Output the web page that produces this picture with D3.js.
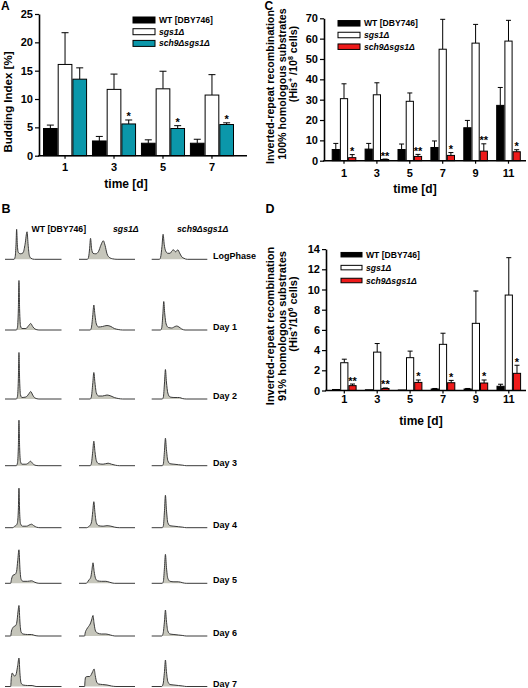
<!DOCTYPE html>
<html><head><meta charset="utf-8">
<script src="https://cdn.jsdelivr.net/npm/d3@7"></script>
<style>
body{margin:0;background:#fff}
svg{display:block}
text{font-family:"Liberation Sans",Arial,sans-serif;font-weight:bold;fill:#000}
</style>
</head><body>
<svg id="fig" width="528" height="688"></svg>
<script>
// ---------------- DATA ----------------
const strains = ["WT [DBY746]", "sgs1Δ", "sch9Δsgs1Δ"];

// Panel A: budding index [%]
const aCats = ["1", "3", "5", "7"];
const aWT = [4.8, 2.6, 2.2, 2.2];
const aWTErr = [0.6, 0.8, 0.6, 0.7];
const aSgs1 = [16.1, 11.7, 11.8, 10.7];
const aSgs1Err = [5.6, 2.7, 3.1, 3.6];
const aSch9 = [13.5, 5.6, 4.8, 5.5];
const aSch9Err = [2.0, 0.7, 0.5, 0.3];
const aSig = ["", "*", "*", "*"];
const aTicks = [0, 5, 10, 15, 20, 25];

// Panel C: 100% homologous substrates (His+/10^8 cells)
const cCats = ["1", "3", "5", "7", "9", "11"];
const cWT = [5.5, 5.7, 5.5, 6.5, 16.2, 27.2];
const cWTErr = [3.0, 2.8, 2.7, 3.2, 3.6, 8.8];
const cSgs1 = [30.5, 32.4, 29.2, 54.8, 57.8, 58.8];
const cSgs1Err = [7.3, 5.9, 4.1, 14.7, 9.2, 10.2];
const cSch9 = [1.5, 0.6, 2.1, 2.6, 4.7, 4.4];
const cSch9Err = [1.5, 0.2, 1.0, 1.4, 3.6, 1.0];
const cSig = ["*", "**", "**", "*", "**", "*"];
const cTicks = [0, 10, 20, 30, 40, 50, 60, 70];

// Panel D: 91% homologous substrates (His+/10^6 cells)
const dCats = ["1", "3", "5", "7", "9", "11"];
const dWT = [0.1, 0.07, 0.05, 0.15, 0.15, 0.42];
const dWTErr = [0, 0, 0, 0.05, 0.05, 0.2];
const dSgs1 = [2.75, 3.8, 3.25, 4.57, 6.65, 9.45];
const dSgs1Err = [0.35, 0.85, 0.65, 1.1, 3.2, 3.7];
const dSch9 = [0.48, 0.2, 0.8, 0.77, 0.74, 1.7];
const dSch9Err = [0.16, 0.05, 0.24, 0.23, 0.3, 0.8];
const dSig = ["**", "**", "*", "*", "*", "*"];
const dTicks = [0, 2, 4, 6, 8, 10, 12, 14];

// Panel B: FACS DNA-content histograms, [channel %, relative count]
const histRows = ["LogPhase", "Day 1", "Day 2", "Day 3", "Day 4", "Day 5", "Day 6", "Day 7"];
const histWT = [
  [[0,0],[16,0],[18,5],[19.5,30],[20.6,60],[21.8,30],[23.5,14],[27,11],[32,13],[35.5,30],[39,55],[41,28],[43,8],[46,2],[52,0],[100,0]],
  [[0,0],[20,0],[22,5],[23.6,40],[24.7,99],[25.9,40],[27.5,8],[30,3],[37,3],[42,9],[45.5,13],[49,7],[53,2],[60,0],[100,0]],
  [[0,0],[20,0],[22,5],[23.6,38],[24.7,93],[25.9,38],[27.5,8],[30,3],[37,4],[42,10],[45.5,15],[49,8],[53,2],[60,0],[100,0]],
  [[0,0],[20,0],[22,5],[23.6,36],[24.7,91],[25.9,36],[27.5,8],[30,3],[37,3],[42,6],[45,9],[48.5,5],[53,1],[60,0],[100,0]],
  [[0,0],[14,0],[17,3],[20,5],[22,10],[23.6,35],[24.7,79],[25.9,32],[27.5,8],[31,3],[38,3],[44,6],[47,7],[51,4],[56,1],[62,0],[100,0]],
  [[0,0],[10,0],[11.5,8],[14,16],[18,18],[20.5,24],[22.5,45],[24.7,67],[26.5,28],[28.5,8],[32,4],[40,4],[47,5],[53,2],[60,0],[100,0]],
  [[0,0],[10,0],[11.5,10],[13,15],[16,19],[19,21],[21,28],[23,48],[24.7,61],[26.5,26],[28.5,8],[32,4],[40,3],[47,3],[53,1],[60,0],[100,0]],
  [[0,0],[10,0],[11.2,18],[12.9,27],[15.5,22],[17.6,21],[20,26],[22.5,42],[24.7,57],[26.5,25],[28.5,7],[32,3],[40,2],[48,2],[55,0],[100,0]]
];
const histSgs1 = [
  [[0,0],[15,0],[17,4],[19,22],[20.6,42],[22.4,22],[25,12],[30,11],[35,16],[39,28],[43.5,37],[46.5,28],[50,11],[54,4],[60,1],[68,0],[100,0]],
  [[0,0],[20,0],[22,4],[24.5,28],[26.5,50],[28.5,30],[31,12],[35,6],[42,7],[50,9],[57,7],[63,3],[70,1],[78,0],[100,0]],
  [[0,0],[20,0],[22,4],[24.5,30],[26.5,53],[28.5,32],[31,12],[35,6],[42,6],[50,8],[57,6],[63,3],[70,1],[78,0],[100,0]],
  [[0,0],[20,0],[22,4],[24.5,28],[26.5,49],[28.5,28],[31,10],[35,4],[43,3],[52,5],[58,3],[65,1],[72,0],[100,0]],
  [[0,0],[14,0],[17,2],[20,5],[22.5,12],[24.5,32],[26.5,52],[28.5,30],[31,10],[35,4],[43,3],[50,4],[57,3],[64,1],[72,0],[100,0]],
  [[0,0],[13,0],[15.5,3],[18,7],[21,12],[23,26],[25,41],[27,24],[29.5,10],[33,5],[40,4],[48,4],[55,2],[63,0],[100,0]],
  [[0,0],[10,0],[11,6],[14,14],[17,19],[20,24],[22.5,32],[25,41],[27,24],[29.5,10],[33,6],[40,4],[48,4],[56,2],[64,0],[100,0]],
  [[0,0],[10,0],[10.8,12],[12,19],[16,20],[19,20],[22,24],[24.5,30],[27,35],[29,22],[31.5,9],[35,5],[42,4],[50,3],[58,1],[66,0],[100,0]]
];
const histSch9 = [
  [[0,0],[14,0],[16,4],[18.5,26],[20.5,50],[22.5,30],[25,17],[29,12],[33,12],[36.5,17],[39,19],[43,15],[47,19],[50,13],[54,5],[58,2],[64,0],[100,0]],
  [[0,0],[16,0],[18,4],[20,30],[21.7,57],[23.5,32],[26,12],[30,5],[36,4],[42,7],[45,8],[49,6],[54,2],[60,0],[100,0]],
  [[0,0],[19,0],[21,4],[23,32],[24.7,59],[26.5,34],[29,12],[33,4],[40,3],[46,3],[50,3],[55,1],[62,0],[100,0]],
  [[0,0],[19,0],[21,4],[23,30],[24.7,55],[26.5,32],[29,10],[33,4],[40,3],[48,2],[56,1],[62,0],[100,0]],
  [[0,0],[19,0],[21,4],[23,34],[24.7,65],[26.5,36],[29,10],[33,4],[40,3],[48,2],[56,1],[62,0],[100,0]],
  [[0,0],[19,0],[21,4],[23,32],[24.7,58],[26.5,32],[29,10],[33,4],[40,3],[48,3],[56,1],[62,0],[100,0]],
  [[0,0],[18,0],[20.5,5],[23,30],[24.7,52],[26.5,30],[29,10],[33,4],[40,3],[48,2],[56,1],[62,0],[100,0]],
  [[0,0],[18,0],[20.5,5],[23,30],[24.7,53],[26.5,30],[29,10],[33,4],[40,3],[48,2],[56,1],[62,0],[100,0]]
];

// ---------------- DRAWING ----------------
const FF = '"Liberation Sans", Arial, sans-serif';
const BLACK = "#000000", WHITE = "#ffffff", TEAL = "#0b97aa", RED = "#ee1a1a";
const svg = d3.select("#fig");
svg.append("rect").attr("width", 528).attr("height", 688).attr("fill", "#fff");

function txt(g, x, y, s, size, opts = {}) {
  return g.append("text").attr("x", x).attr("y", y).text(s)
    .attr("font-size", size).attr("text-anchor", opts.anchor || "start")
    .attr("font-style", opts.italic ? "italic" : "normal");
}

function barChart(p) {
  const g = svg.append("g");
  const x = d3.scaleBand().domain(p.cats).range(p.band).paddingInner(p.pi).paddingOuter(0);
  const sub = d3.scaleBand().domain([0, 1, 2]).range([0, x.bandwidth()]);
  const y = d3.scaleLinear().domain([0, p.yMax]).range([p.y0, p.yTop]);
  p.series.forEach((s, si) => {
    const cx = (c) => x(c) + sub(si) + sub.bandwidth() / 2;
    const eg = g.append("g");
    p.cats.forEach((c, i) => {
      if (s.e[i] <= 0) return;
      eg.append("line").attr("x1", cx(c)).attr("x2", cx(c))
        .attr("y1", y(s.v[i])).attr("y2", y(s.v[i] + s.e[i]))
        .attr("stroke", "#000").attr("stroke-width", 1);
      eg.append("line").attr("x1", cx(c) - p.capW / 2).attr("x2", cx(c) + p.capW / 2)
        .attr("y1", y(s.v[i] + s.e[i])).attr("y2", y(s.v[i] + s.e[i]))
        .attr("stroke", "#000").attr("stroke-width", 1);
    });
    g.append("g").selectAll("rect").data(p.cats).join("rect")
      .attr("x", c => x(c) + sub(si) + 0.5)
      .attr("y", (c, i) => y(s.v[i]))
      .attr("width", sub.bandwidth() - 1)
      .attr("height", (c, i) => Math.max(0.5, y(0) - y(s.v[i])))
      .attr("fill", s.fill).attr("stroke", "#000").attr("stroke-width", 1);
    if (si === 2) {
      p.cats.forEach((c, i) => {
        if (!p.sig[i]) return;
        txt(g, cx(c), y(s.v[i] + s.e[i]) + 0.5, p.sig[i], 11, { anchor: "middle" });
      });
    }
  });
  const ya = d3.axisLeft(y).tickValues(p.ticks).tickSize(4).tickSizeOuter(0).tickPadding(2).tickFormat(d3.format("d"));
  g.append("g").attr("transform", `translate(${p.ax},0)`).call(ya)
    .attr("font-family", FF).attr("font-size", 11).attr("font-weight", "bold")
    .call(a => a.select(".domain").attr("stroke-width", 1.6))
    .call(a => a.selectAll(".tick line").attr("stroke-width", 1.2));
  const xa = d3.axisBottom(x).tickSize(3).tickSizeOuter(0).tickPadding(p.xPad);
  g.append("g").attr("transform", `translate(0,${p.y0})`).call(xa)
    .attr("font-family", FF).attr("font-size", 11).attr("font-weight", "bold")
    .call(a => a.select(".domain").remove())
    .call(a => a.selectAll(".tick line").attr("stroke-width", 1.2));
  g.append("line").attr("x1", p.ax - 0.8).attr("x2", p.axEnd).attr("y1", p.y0).attr("y2", p.y0)
    .attr("stroke", "#000").attr("stroke-width", 1.6);
  txt(g, p.xtX, p.xtY, "time [d]", 12, { anchor: "middle" });
  p.series.forEach((s, si) => {
    g.append("rect").attr("x", p.leg[0]).attr("y", p.leg[1] + si * p.leg[3] - p.leg[4] / 2)
      .attr("width", p.leg[2]).attr("height", p.leg[4])
      .attr("fill", s.fill).attr("stroke", "#000").attr("stroke-width", 1);
    txt(g, p.leg[0] + p.leg[2] + 4, p.leg[1] + si * p.leg[3] + 3, strains[si], 8.6, { italic: si > 0 });
  });
  return g;
}

// Panel A
const gA = barChart({
  cats: aCats, band: [43, 234], pi: 0.1, y0: 155.7, yTop: 14, yMax: 25, ticks: aTicks,
  ax: 39, axEnd: 247, capW: 7, xPad: 4.5, sig: aSig, xtX: 126, xtY: 188,
  leg: [133, 20, 22, 11.7, 6],
  series: [{ v: aWT, e: aWTErr, fill: BLACK }, { v: aSgs1, e: aSgs1Err, fill: WHITE }, { v: aSch9, e: aSch9Err, fill: TEAL }]
});
gA.append("text").attr("transform", "translate(12,102) rotate(-90)").attr("text-anchor", "middle")
  .attr("font-size", 11.5).text("Budding Index [%]");

// Panel C
const gC = barChart({
  cats: cCats, band: [331.7, 520.8], pi: 0.252, y0: 160.7, yTop: 18.3, yMax: 70, ticks: cTicks,
  ax: 324, axEnd: 526, capW: 5, xPad: 5.5, sig: cSig, xtX: 415, xtY: 193,
  leg: [338, 23.3, 22, 11.7, 5.5],
  series: [{ v: cWT, e: cWTErr, fill: BLACK }, { v: cSgs1, e: cSgs1Err, fill: WHITE }, { v: cSch9, e: cSch9Err, fill: RED }]
});

// Panel D
const gD = barChart({
  cats: dCats, band: [332, 521.1], pi: 0.252, y0: 390.5, yTop: 249.1, yMax: 14, ticks: dTicks,
  ax: 326, axEnd: 526, capW: 5, xPad: 1.2, sig: dSig, xtX: 421, xtY: 425,
  leg: [341, 254.7, 21, 12.9, 4.5],
  series: [{ v: dWT, e: dWTErr, fill: BLACK }, { v: dSgs1, e: dSgs1Err, fill: WHITE }, { v: dSch9, e: dSch9Err, fill: RED }]
});

function recTitle(g, cy1, cy2, cy3, size, pct, exp) {
  g.append("text").attr("transform", `translate(274,${cy1}) rotate(-90)`).attr("text-anchor", "middle")
    .attr("font-size", size).text("Inverted-repeat recombination");
  g.append("text").attr("transform", `translate(285.5,${cy2}) rotate(-90)`).attr("text-anchor", "middle")
    .attr("font-size", size).text(pct + " homologous substrates");
  const t = g.append("text").attr("transform", `translate(296.5,${cy3}) rotate(-90)`).attr("text-anchor", "middle")
    .attr("font-size", size);
  t.append("tspan").text("(His");
  t.append("tspan").attr("dy", -4).attr("font-size", 7).text("+");
  t.append("tspan").attr("dy", 4).text(exp === "8" ? " /10" : "/10");
  t.append("tspan").attr("dy", -4).attr("font-size", 7).text(exp);
  t.append("tspan").attr("dy", 4).text(" cells)");
}
recTitle(gC, 87, 84, 64, 10.7, "100%", "8");
recTitle(gD, 326, 326, 314, 11, "91%", "6");

// Panel B histograms
const gB = svg.append("g");
const colRange = [[5, 61.5], [79, 135], [151.7, 207.3]];
const rowBase = [259.3, 330, 399, 465.7, 527.7, 583.3, 636, 686.5];
const hs = d3.scaleLinear().domain([0, 100]).range([0, 50]);
[histWT, histSgs1, histSch9].forEach((set, ci) => {
  const hx = d3.scaleLinear().domain([0, 100]).range(colRange[ci]);
  set.forEach((pts, ri) => {
    const base = rowBase[ri];
    const area = d3.area().x(d => hx(d[0])).y0(base).y1(d => base - hs(d[1])).curve(d3.curveMonotoneX);
    const line = d3.line().x(d => hx(d[0])).y(d => base - hs(d[1])).curve(d3.curveMonotoneX);
    gB.append("path").attr("d", area(pts)).attr("fill", "#c6c6bb");
    gB.append("path").attr("d", line(pts)).attr("fill", "none").attr("stroke", "#3a3a3a").attr("stroke-width", 1);
  });
});
histRows.forEach((r, ri) => txt(gB, 213, rowBase[ri], r, 9));
txt(gB, 31.5, 231.5, strains[0], 8.7);
txt(gB, 113, 231.5, strains[1], 8.7, { italic: true });
txt(gB, 177, 231.5, strains[2], 8.7, { italic: true });

// Panel letters
txt(svg, 1, 10, "A", 12);
txt(svg, 1.5, 212.5, "B", 12.5);
txt(svg, 264.5, 9.8, "C", 12);
txt(svg, 265.5, 212.5, "D", 12.5);
</script>
</body></html>
